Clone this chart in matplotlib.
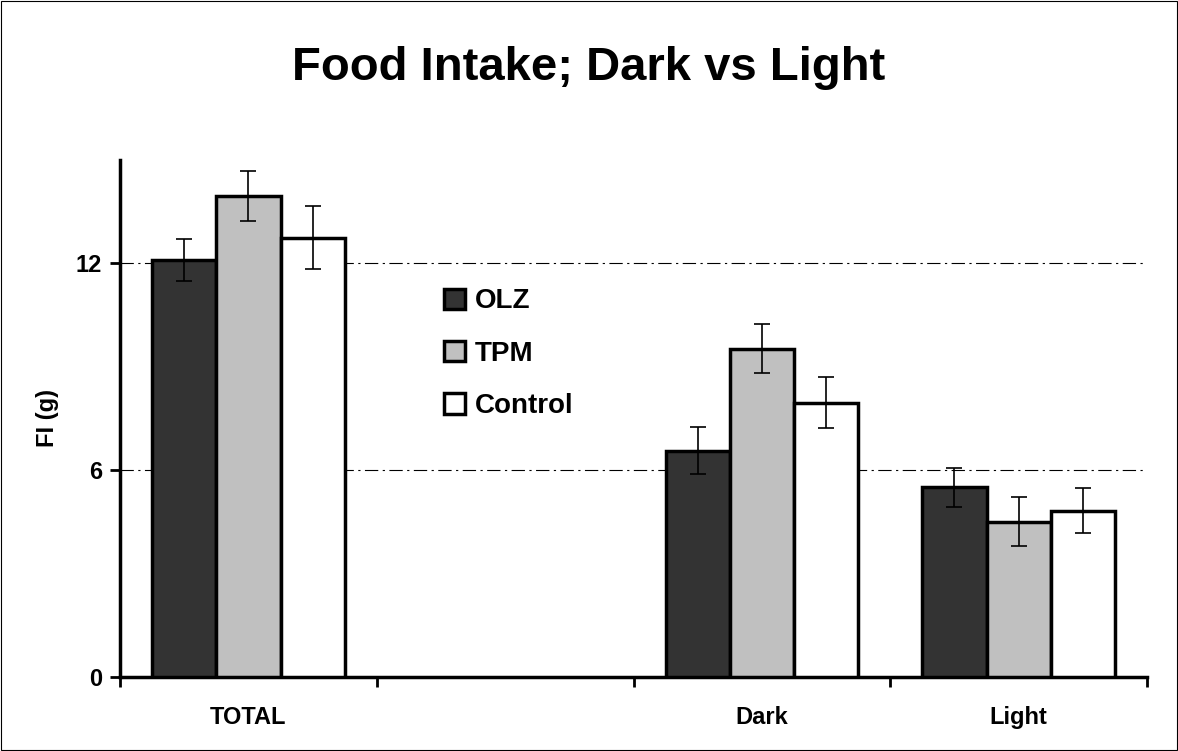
import matplotlib
matplotlib.use("Agg")
import matplotlib.pyplot as plt
import numpy as np
from matplotlib.patches import Rectangle

plt.rcParams['font.family'] = ['Liberation Sans', 'DejaVu Sans']

categories = ["TOTAL", "", "Dark", "Light"]
series = ["OLZ", "TPM", "Control"]
olz = [12.1, np.nan, 6.57, 5.5]
tpm = [13.95, np.nan, 9.53, 4.5]
control = [12.75, np.nan, 7.95, 4.83]
olz_err = [0.6, np.nan, 0.67, 0.57]
tpm_err = [0.73, np.nan, 0.7, 0.71]
control_err = [0.9, np.nan, 0.74, 0.64]
colors = ["#333333", "#c0c0c0", "#ffffff"]

fig = plt.figure(figsize=(11.78, 7.51), dpi=100)
fig.patches.append(Rectangle((0.001, 0.001), 0.998, 0.998, transform=fig.transFigure,
                             fill=False, edgecolor="black", linewidth=0.8))
ax = fig.add_axes([0.1019, 0.0985, 0.8718, 0.6885])

x = np.arange(len(categories))
w = 0.25
vals = [olz, tpm, control]
errs = [olz_err, tpm_err, control_err]
for i, (v, e, c, name) in enumerate(zip(vals, errs, colors, series)):
    ax.bar(x + (i - 1) * w, v, width=w, color=c, edgecolor="black", linewidth=2.5,
           label=name, zorder=3)
    ax.errorbar(x + (i - 1) * w, v, yerr=e, fmt="none", ecolor="black",
                elinewidth=1.2, capsize=6, capthick=1.2, zorder=4)

ax.set_xlim(-0.5, 3.5)
ax.set_ylim(0, 15)
ax.set_yticks([0, 6, 12])
ax.set_yticklabels(["0", "6", "12"], fontsize=17, fontweight="bold")
ax.set_xticks([-0.5, 0.5, 1.5, 2.5, 3.5])
ax.set_xticklabels([])
ax.set_xticks(x, minor=True)
ax.set_xticklabels(categories, minor=True, fontsize=17, fontweight="bold")
ax.tick_params(axis="x", which="major", direction="out", length=7, width=2)
ax.tick_params(axis="x", which="minor", length=0, pad=21)
ax.tick_params(axis="y", direction="out", length=7, width=2, pad=6)
for yv in [6, 12]:
    ax.axhline(yv, color="black", linestyle=(0, (12, 4, 2, 4)), linewidth=0.8, zorder=1)

for s in ["top", "right"]:
    ax.spines[s].set_visible(False)
ax.spines["left"].set_linewidth(2.5)
ax.spines["bottom"].set_linewidth(2.5)

ax.set_ylabel("FI (g)", fontsize=17, fontweight="bold", labelpad=12)
fig.text(0.5, 0.909, "Food Intake; Dark vs Light", fontsize=34, fontweight="bold",
         ha="center", va="center")

leg = ax.legend(loc="upper left", bbox_to_anchor=(0.305, 0.773), frameon=False,
                prop={"size": 20, "weight": "bold"}, handlelength=0.75, handleheight=0.75,
                handletextpad=0.35, labelspacing=0.95, borderaxespad=0)
for h in leg.legend_handles:
    h.set_linewidth(2.5)

fig.savefig("out.png", dpi=100)
